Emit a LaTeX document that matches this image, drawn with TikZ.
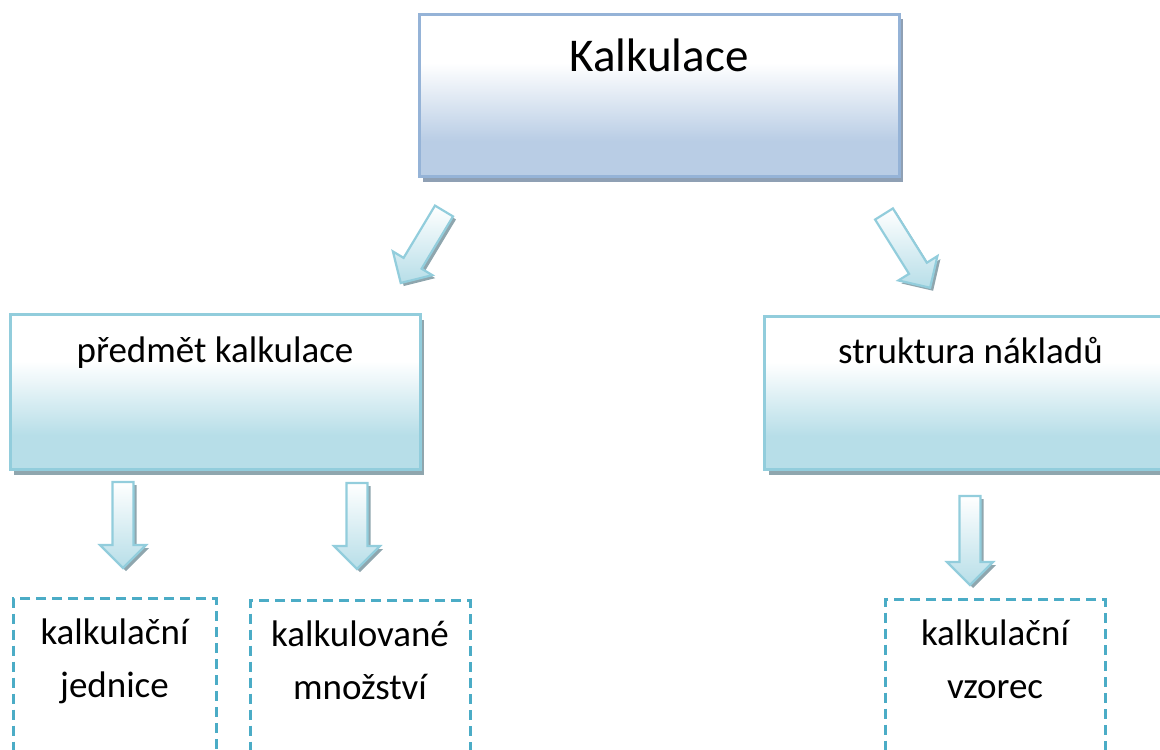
\documentclass[tikz,border=0pt]{standalone}
\usepackage{fontspec}
\setmainfont{Carlito}
\usetikzlibrary{shadows, positioning}
\definecolor{topline}{HTML}{95B3D7}
\definecolor{topfill}{HTML}{B9CDE5}
\definecolor{topshadow}{HTML}{8FA0B4}
\definecolor{tealline}{HTML}{92CDDC}
\definecolor{tealfill}{HTML}{B7DEE8}
\definecolor{tealshadow}{HTML}{8FA6AE}
\definecolor{dashline}{HTML}{4BACC6}
\pgfdeclareverticalshading{topshade}{100bp}{color(0bp)=(topfill); color(36bp)=(topfill); color(60bp)=(white); color(100bp)=(white)}
\pgfdeclareverticalshading{tealshade}{100bp}{color(0bp)=(tealfill); color(36bp)=(tealfill); color(60bp)=(white); color(100bp)=(white)}
\tikzset{
	blockarrow/.pic={
			\draw[line width=1.1pt, draw=tealline, top color=white, bottom color=tealfill,
				general shadow={fill=tealshadow, shadow xshift=1.5pt, shadow yshift=-1.5pt}]
			(0,-10.5) --
			(#1-23,-10.5) --
			(#1-23,-23) --
			(#1,0) --
			(#1-23,23) --
			(#1-23,10.5) --
			(0,10.5) --
			cycle;
		}
}
\tikzset{
	topbox/.style={draw=topline, line width=1.5pt, shading=topshade, inner sep=0pt,
			general shadow={fill=topshadow, shadow xshift=2pt, shadow yshift=-2.5pt},
			font=\fontsize{23.5}{28}\selectfont}
}
\tikzset{
	tealbox/.style={draw=tealline, line width=1.5pt, shading=tealshade, inner sep=0pt,
			general shadow={fill=tealshadow, shadow xshift=2pt, shadow yshift=-2.5pt},
			font=\fontsize{18.5}{22}\selectfont}
}
\tikzset{
	dashbox/.style={draw=dashline, line width=1.5pt, dash pattern=on 5pt off 3pt, inner sep=0pt,
			align=center, font=\fontsize{18.5}{26.5}\selectfont}
}
\begin{document}
\begin{tikzpicture}[x=0.5pt, y=-0.5pt]
	\useasboundingbox (0,0) rectangle (1160,749);

	\node[topbox, minimum width=240pt, text height=28.5pt, text depth=52.5pt, anchor=north] (kalk) at (659,13) {Kalkulace};

	\node[tealbox, minimum width=205pt, text height=24pt, text depth=53.5pt, anchor=north] (predmet) at (215,313) {předmět kalkulace};
	\node[tealbox, minimum width=206pt, text height=23.5pt, text depth=53pt, anchor=north west] (struktura) at (763,315) {struktura nákladů};

	% two lines: baseline is the lower one
	\node[dashbox, minimum width=101.5pt, text height=49.5pt, text depth=60pt, anchor=north] (jednice) at (114.5,597) {kalkulační\\jednice};
	\node[dashbox, minimum width=110pt, text height=49.5pt, text depth=60pt, anchor=north] (mnozstvi) at (360,599) {kalkulované\\množství};
	\node[dashbox, minimum width=110pt, text height=49.5pt, text depth=60pt, anchor=north] (vzorec) at (995,598) {kalkulační\\vzorec};

	\coordinate (tA) at (444,211);
	\coordinate (tB) at (884,214);
	\coordinate (tC) at (123,482);
	\coordinate (tD) at (357,483);
	\coordinate (tE) at (970,496);

	\pic[rotate=-121] at (tA) {blockarrow=84};
	\pic[rotate=-58] at (tB) {blockarrow=87};
	\pic[rotate=-90] at (tC) {blockarrow=86};
	\pic[rotate=-90] at (tD) {blockarrow=86};
	\pic[rotate=-90] at (tE) {blockarrow=89};

\end{tikzpicture}
\end{document}
